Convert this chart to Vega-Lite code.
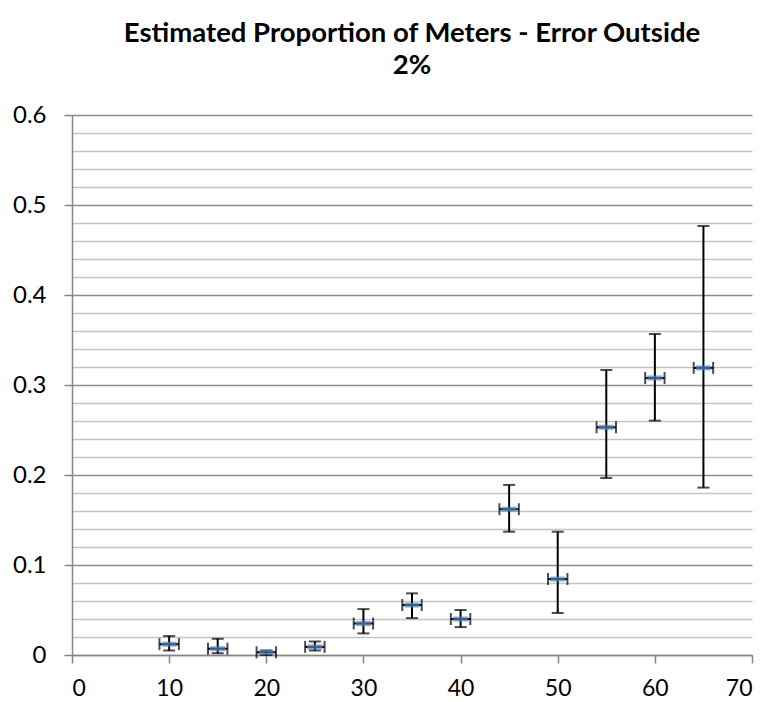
{
  "$schema": "https://vega.github.io/schema/vega-lite/v6.json",
  "width": 680,
  "height": 540,
  "autosize": "none",
  "padding": {"left": 72, "top": 115, "right": 15, "bottom": 47},
  "background": "white",
  "title": {
    "text": ["Estimated Proportion of Meters - Error Outside", "2%"],
    "font": "Lato",
    "fontSize": 27.5,
    "fontWeight": "bold",
    "color": "#000000",
    "lineHeight": 32,
    "offset": 24,
    "anchor": "middle",
    "frame": "group"
  },
  "config": {
    "view": {"stroke": null},
    "axis": {
      "labelFont": "Lato",
      "labelFontSize": 24,
      "labelColor": "#000000",
      "domainColor": "#868686",
      "tickColor": "#868686",
      "domainWidth": 1.5,
      "tickWidth": 1.5,
      "labelOverlap": false,
      "title": null
    }
  },
  "data": {
    "values": [
      {"x": 10, "y": 0.012, "ylo": 0.005, "yhi": 0.021, "xlo": 9, "xhi": 11},
      {"x": 15, "y": 0.007, "ylo": 0.002, "yhi": 0.018, "xlo": 14, "xhi": 16},
      {"x": 20, "y": 0.003, "ylo": 0.0, "yhi": 0.005, "xlo": 19, "xhi": 21},
      {"x": 25, "y": 0.009, "ylo": 0.005, "yhi": 0.015, "xlo": 24, "xhi": 26},
      {"x": 30, "y": 0.035, "ylo": 0.024, "yhi": 0.051, "xlo": 29, "xhi": 31},
      {"x": 35, "y": 0.0555, "ylo": 0.041, "yhi": 0.0685, "xlo": 34, "xhi": 36},
      {"x": 40, "y": 0.04, "ylo": 0.031, "yhi": 0.05, "xlo": 39, "xhi": 41},
      {"x": 45, "y": 0.162, "ylo": 0.137, "yhi": 0.189, "xlo": 44, "xhi": 46},
      {"x": 50, "y": 0.0844, "ylo": 0.0467, "yhi": 0.137, "xlo": 49, "xhi": 51},
      {"x": 55, "y": 0.253, "ylo": 0.1967, "yhi": 0.3167, "xlo": 54, "xhi": 56},
      {"x": 60, "y": 0.3078, "ylo": 0.2604, "yhi": 0.3567, "xlo": 59, "xhi": 61},
      {"x": 65, "y": 0.319, "ylo": 0.186, "yhi": 0.4767, "xlo": 64, "xhi": 66}
    ]
  },
  "layer": [
    {
      "mark": {"type": "rule", "color": "#000000", "strokeWidth": 2},
      "encoding": {
        "x": {
          "field": "x", "type": "quantitative",
          "scale": {"domain": [0, 70], "nice": false},
          "axis": {"values": [0, 10, 20, 30, 40, 50, 60, 70], "tickCount": 20, "grid": false, "tickSize": 8, "labelPadding": 14, "labelFontSize": 23, "format": "d"}
        },
        "y": {
          "field": "ylo", "type": "quantitative",
          "scale": {"domain": [0, 0.6], "nice": false},
          "axis": {
            "values": [0, 0.02, 0.04, 0.06, 0.08, 0.1, 0.12, 0.14, 0.16, 0.18, 0.2, 0.22, 0.24, 0.26, 0.28, 0.3, 0.32, 0.34, 0.36, 0.38, 0.4, 0.42, 0.44, 0.46, 0.48, 0.5, 0.52, 0.54, 0.56, 0.58, 0.6],
            "tickCount": 100,
            "grid": true,
            "gridColor": {"condition": {"test": "abs(datum.value*10 - round(datum.value*10)) < 0.001", "value": "#8c8c8c"}, "value": "#c4c4c4"},
            "gridWidth": 1.5,
            "tickOpacity": {"condition": {"test": "abs(datum.value*10 - round(datum.value*10)) < 0.001", "value": 1}, "value": 0},
            "tickSize": 8,
            "labelPadding": 18,
            "labelFontSize": 24,
            "labelExpr": "abs(datum.value*10 - round(datum.value*10)) < 0.001 ? format(datum.value, '.1~f') : ''"
          }
        },
        "y2": {"field": "yhi"}
      }
    },
    {
      "mark": {"type": "tick", "orient": "horizontal", "color": "#000000", "size": 12, "thickness": 2},
      "encoding": {
        "x": {"field": "x", "type": "quantitative"},
        "y": {"field": "yhi", "type": "quantitative"}
      }
    },
    {
      "mark": {"type": "tick", "orient": "horizontal", "color": "#000000", "size": 12, "thickness": 2},
      "encoding": {
        "x": {"field": "x", "type": "quantitative"},
        "y": {"field": "ylo", "type": "quantitative"}
      }
    },
    {
      "mark": {"type": "rule", "color": "#000000", "strokeWidth": 2},
      "encoding": {
        "x": {"field": "xlo", "type": "quantitative"},
        "x2": {"field": "xhi"},
        "y": {"field": "y", "type": "quantitative"}
      }
    },
    {
      "mark": {"type": "tick", "orient": "vertical", "color": "#000000", "size": 12, "thickness": 2},
      "encoding": {
        "x": {"field": "xlo", "type": "quantitative"},
        "y": {"field": "y", "type": "quantitative"}
      }
    },
    {
      "mark": {"type": "tick", "orient": "vertical", "color": "#000000", "size": 12, "thickness": 2},
      "encoding": {
        "x": {"field": "xhi", "type": "quantitative"},
        "y": {"field": "y", "type": "quantitative"}
      }
    },
    {
      "mark": {"type": "tick", "orient": "horizontal", "color": "#4F81BD", "size": 15, "thickness": 5},
      "encoding": {
        "x": {"field": "x", "type": "quantitative"},
        "y": {"field": "y", "type": "quantitative"}
      }
    }
  ]
}
